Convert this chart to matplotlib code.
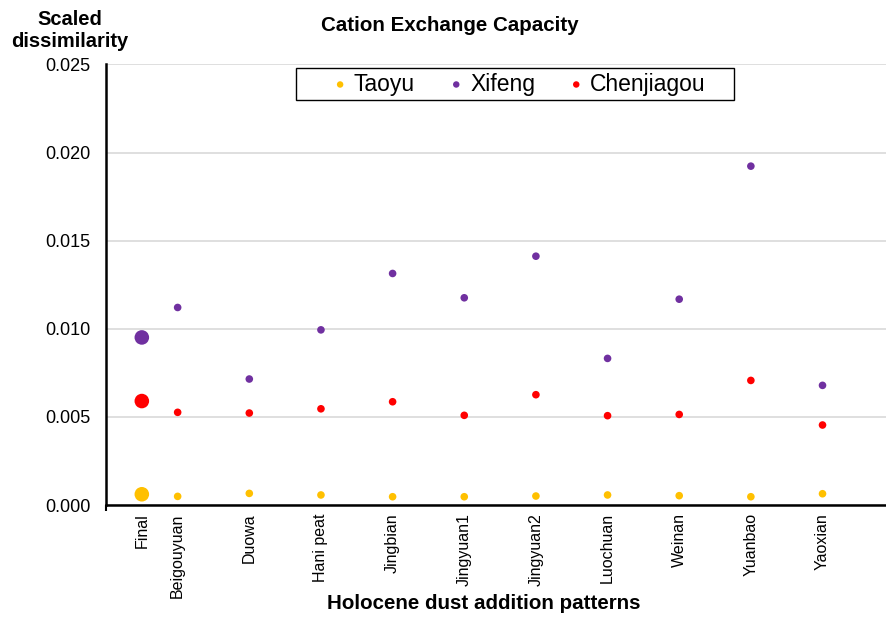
import matplotlib
matplotlib.use("Agg")
import matplotlib.pyplot as plt
from matplotlib.patches import Rectangle
from matplotlib.ticker import FixedLocator, MultipleLocator

plt.rcParams['font.family'] = ['Liberation Sans', 'DejaVu Sans']

# Dust addition patterns (x categories)
patterns = ["Beigouyuan", "Duowa", "Hani peat", "Jingbian", "Jingyuan1",
            "Jingyuan2", "Luochuan", "Weinan", "Yuanbao", "Yaoxian"]
final_label = "Final"

# Scaled dissimilarity per site for each pattern
taoyu = [0.00049, 0.00066, 0.00057, 0.00047, 0.00047,
         0.00051, 0.00057, 0.00053, 0.00047, 0.00064]
xifeng = [0.01121, 0.00715, 0.00994, 0.01314, 0.01176,
          0.01412, 0.00832, 0.01168, 0.01923, 0.00679]
chenjiagou = [0.00526, 0.00522, 0.00546, 0.00586, 0.00509,
              0.00626, 0.00507, 0.00514, 0.00707, 0.00454]

# Final (combined) values
final_taoyu = 0.00061
final_xifeng = 0.00951
final_chenjiagou = 0.00590

colors = {"Taoyu": "#FFC000", "Xifeng": "#7030A0", "Chenjiagou": "#FF0000"}

W, H = 887, 617
fig = plt.figure(figsize=(W / 100, H / 100), dpi=100)
ax = fig.add_axes([0.1195, 0.1815, 0.8805, 0.714])

x = list(range(1, len(patterns) + 1))
x_final = 0.5

series = [("Taoyu", taoyu, final_taoyu),
          ("Xifeng", xifeng, final_xifeng),
          ("Chenjiagou", chenjiagou, final_chenjiagou)]

for name, vals, fin in series:
    ax.scatter(x, vals, s=30, color=colors[name], edgecolors='none',
               zorder=3, label=name)
    ax.scatter([x_final], [fin], s=110, color=colors[name],
               edgecolors='none', zorder=3)

ax.set_xlim(0, 10.9)
ax.set_ylim(0, 0.025)
ax.yaxis.set_major_locator(MultipleLocator(0.005))
ax.set_yticklabels([f"{v:.3f}" for v in ax.get_yticks()])

# Category labels (major) and separating tick marks / grid (minor)
ax.set_xticks([x_final] + x)
ax.set_xticklabels([final_label] + patterns, rotation=90, va='top',
                   ha='center', fontsize=11.5)
ax.xaxis.set_minor_locator(FixedLocator(list(range(0, 11))))
ax.tick_params(axis='x', which='major', length=0, pad=6)
ax.tick_params(axis='x', which='minor', length=4, width=1.5,
               color='black', direction='out')
ax.tick_params(axis='y', length=0, pad=11, labelsize=13)

ax.grid(True, axis='y', which='major', color='#d9d9d9', linewidth=1.2,
        zorder=0)
ax.grid(True, axis='x', which='minor', color='#d9d9d9', linewidth=1.2,
        zorder=0)
ax.set_axisbelow(True)

for side in ['top', 'right']:
    ax.spines[side].set_visible(False)
for side in ['left', 'bottom']:
    ax.spines[side].set_linewidth(1.8)
    ax.spines[side].set_color('black')
    ax.spines[side].set_zorder(4)

# Legend entries without their own frame; a plain box is drawn around them
box = Rectangle((296 / W, 1 - 100 / H), 438 / W, 32 / H,
                transform=fig.transFigure, fill=True, facecolor='white',
                edgecolor='black', linewidth=1.0, zorder=5, clip_on=False)
ax.add_patch(box)
leg = ax.legend(loc='center', bbox_to_anchor=(516 / W, 1 - 84 / H),
                bbox_transform=fig.transFigure, ncol=3, fontsize=16.5,
                frameon=False, markerscale=0.85, handletextpad=0.0,
                columnspacing=1.2, borderpad=0.2, handlelength=1.2)
leg.set_zorder(6)

fig.text(0.507, 0.958, "Cation Exchange Capacity", ha='center',
         va='center', fontsize=14.8, fontweight='bold')
fig.text(0.079, 0.9506, "Scaled\ndissimilarity", ha='center', va='center',
         fontsize=14.5, fontweight='bold', linespacing=1.2)
fig.text(0.545, 0.022, "Holocene dust addition patterns", ha='center',
         va='center', fontsize=14.8, fontweight='bold')

fig.savefig("out.png", dpi=100)
